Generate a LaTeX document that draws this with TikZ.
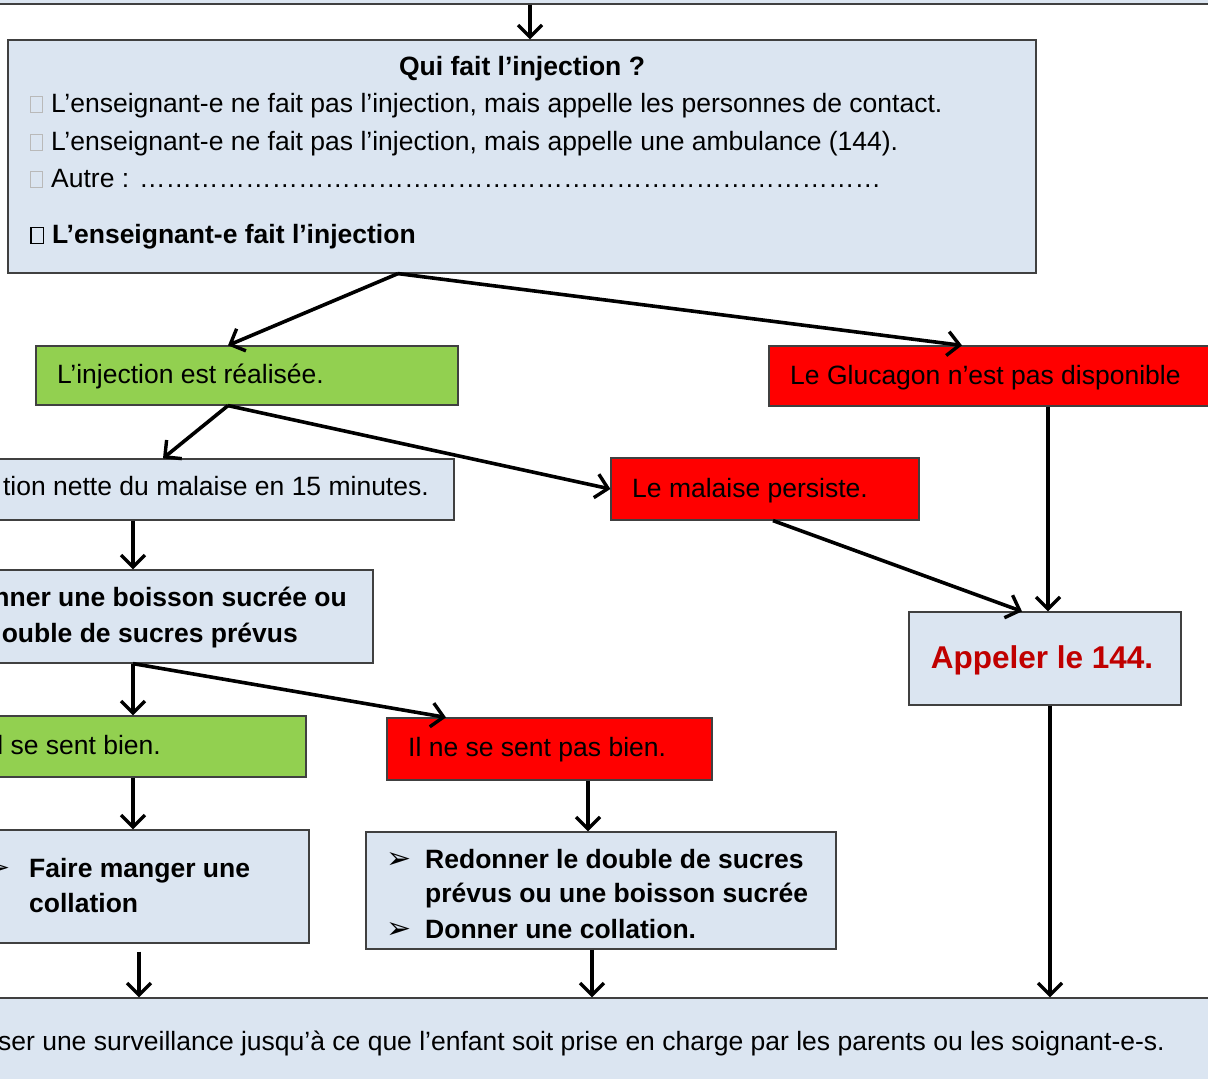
\documentclass[tikz,border=0pt]{standalone}
\usepackage{fontspec}
\setmainfont{Liberation Sans}
\newfontfamily\symfont{DejaVu Sans}
\usepackage{xcolor}
\usetikzlibrary{arrows.meta}

\definecolor{boxblue}{HTML}{DBE5F1}
\definecolor{boxgreen}{HTML}{92D050}
\definecolor{boxred}{HTML}{FF0000}
\definecolor{darkred}{HTML}{C00000}
\definecolor{edgegray}{HTML}{404040}

\newcommand{\txt}{\fontsize{26.5pt}{32pt}\selectfont}
\newcommand{\bigtxt}{\fontsize{31.5pt}{36pt}\selectfont\bfseries}
\newcommand{\chk}{{\color{gray!55}\fboxrule=1pt\fboxsep=0pt\fbox{\rule{0pt}{15pt}\hspace{11pt}}}\hspace{8pt}}
\newcommand{\chkb}{{\fboxrule=1.4pt\fboxsep=0pt\fbox{\rule{0pt}{15pt}\hspace{11pt}}}\hspace{8pt}}
\newcommand{\arw}{{\symfont\fontsize{30pt}{34pt}\selectfont ➢}}

\begin{document}
\begin{tikzpicture}[x=1pt,y=-1pt,
  box/.style={draw=edgegray,line width=1.2pt,inner sep=0pt},
  bluebox/.style={box,fill=boxblue},
  greenbox/.style={box,fill=boxgreen},
  redbox/.style={box,fill=boxred},
  lbl/.style={inner sep=0pt,font=\txt,anchor=base west},
  arr/.style={line width=3.6pt,-{Straight Barb[length=12pt,width=24pt,line width=3.4pt]}}]
\useasboundingbox (0,0) rectangle (1208,1079);
\clip (0,0) rectangle (1208,1079);

% boxes
\node[bluebox,minimum width=1250,minimum height=34] (top) at (605,-13) {};
\node[bluebox,minimum width=1028,minimum height=233] (qui) at (522,156.5) {};
\node[greenbox,minimum width=422,minimum height=59] (inj) at (247,375.5) {};
\node[redbox,minimum width=461,minimum height=60] (gluc) at (999.5,376) {};
\node[bluebox,minimum width=474,minimum height=61] (amel) at (217,489.5) {};
\node[redbox,minimum width=308,minimum height=62] (pers) at (765,489) {};
\node[bluebox,minimum width=272,minimum height=93] (appel) at (1045,658.5) {};
\node[bluebox,minimum width=393,minimum height=93] (boire) at (176.5,616.5) {};
\node[greenbox,minimum width=326,minimum height=61] (bien) at (143,746.5) {};
\node[redbox,minimum width=325,minimum height=62] (pasbien) at (549.5,749) {};
\node[bluebox,minimum width=329,minimum height=113] (manger) at (144.5,886.5) {};
\node[bluebox,minimum width=470,minimum height=117] (redon) at (601,890.5) {};
\node[bluebox,minimum width=1250,minimum height=112] (surv) at (605,1054) {};

% texts
\node[lbl,anchor=base,font=\txt\bfseries] (quiT) at (522,75) {Qui fait l’injection ?};
\node[lbl] (qui1) at (30,112) {\chk L’enseignant-e ne fait pas l’injection, mais appelle les personnes de contact.};
\node[lbl] (qui2) at (30,150) {\chk L’enseignant-e ne fait pas l’injection, mais appelle une ambulance (144).};
\node[lbl] (qui3) at (30,187) {\chk Autre : …………………………………………………………………………};
\node[lbl,font=\txt\bfseries] (qui4) at (30,243) {\chkb L’enseignant-e fait l’injection};
\node[lbl] (injT) at (57,383) {L’injection est réalisée.};
\node[lbl] (glucT) at (790,384) {Le Glucagon n’est pas disponible};
\node[lbl,anchor=base east] (amelT) at (429,495) {tion nette du malaise en 15 minutes.};
\node[lbl] (persT) at (632,497) {Le malaise persiste.};
\node[lbl,anchor=base,font=\bigtxt,text=darkred] (appelT) at (1042,668) {Appeler le 144.};
\node[lbl,anchor=base east,font=\txt\bfseries] (boire1) at (347,606) {nner une boisson sucrée ou};
\node[lbl,anchor=base east,font=\txt\bfseries] (boire2) at (298,642) {ouble de sucres prévus};
\node[lbl,anchor=base east] (bienT) at (161,754) {l se sent bien.};
\node[lbl] (pasbienT) at (408,756) {Il ne se sent pas bien.};
\node[lbl,anchor=base east] (manger0) at (11,877) {\arw};
\node[lbl,font=\txt\bfseries] (manger1) at (29,877) {Faire manger une};
\node[lbl,font=\txt\bfseries] (manger2) at (29,912) {collation};
\node[lbl] (redon0) at (386,868) {\arw};
\node[lbl,font=\txt\bfseries] (redon1) at (425,868) {Redonner le double de sucres};
\node[lbl,font=\txt\bfseries] (redon2) at (425,902) {prévus ou une boisson sucrée};
\node[lbl] (redon3) at (386,938) {\arw};
\node[lbl,font=\txt\bfseries] (redon4) at (425,938) {Donner une collation.};
\node[lbl,anchor=base east] (survT) at (1165,1050) {ser une surveillance jusqu’à ce que l’enfant soit prise en charge par les parents ou les soignant-e-s.};

% connectors
\draw[arr] ([xshift=-75]top.south) -- ([xshift=8]qui.north);
\draw[arr] ([xshift=-124]qui.south) -- ([xshift=-19]inj.north);
\draw[arr] ([xshift=-124]qui.south) -- ([xshift=-37.5]gluc.north);
\draw[arr] ([xshift=-19]inj.south) -- ([xshift=-54]amel.north);
\draw[arr] ([xshift=-19]inj.south) -- (pers.west);
\draw[arr] ([xshift=48.5]gluc.south) -- ([xshift=3]appel.north);
\draw[arr] ([xshift=8]pers.south) -- ([xshift=-23]appel.north);
\draw[arr] ([xshift=-84]amel.south) -- ([xshift=-43.5]boire.north);
\draw[arr] ([xshift=-43.5]boire.south) -- ([xshift=-10]bien.north);
\draw[arr] ([xshift=-43.5]boire.south) -- ([xshift=-103.5]pasbien.north);
\draw[arr] ([xshift=-10]bien.south) -- ([xshift=-11.5]manger.north);
\draw[arr] ([xshift=38.5]pasbien.south) -- ([xshift=-13]redon.north);
\draw[arr] ([xshift=-5.5,yshift=-8]manger.south) -- ([xshift=-466]surv.north);
\draw[arr] ([xshift=-9]redon.south) -- ([xshift=-13]surv.north);
\draw[arr] ([xshift=5]appel.south) -- ([xshift=445]surv.north);
\end{tikzpicture}
\end{document}
